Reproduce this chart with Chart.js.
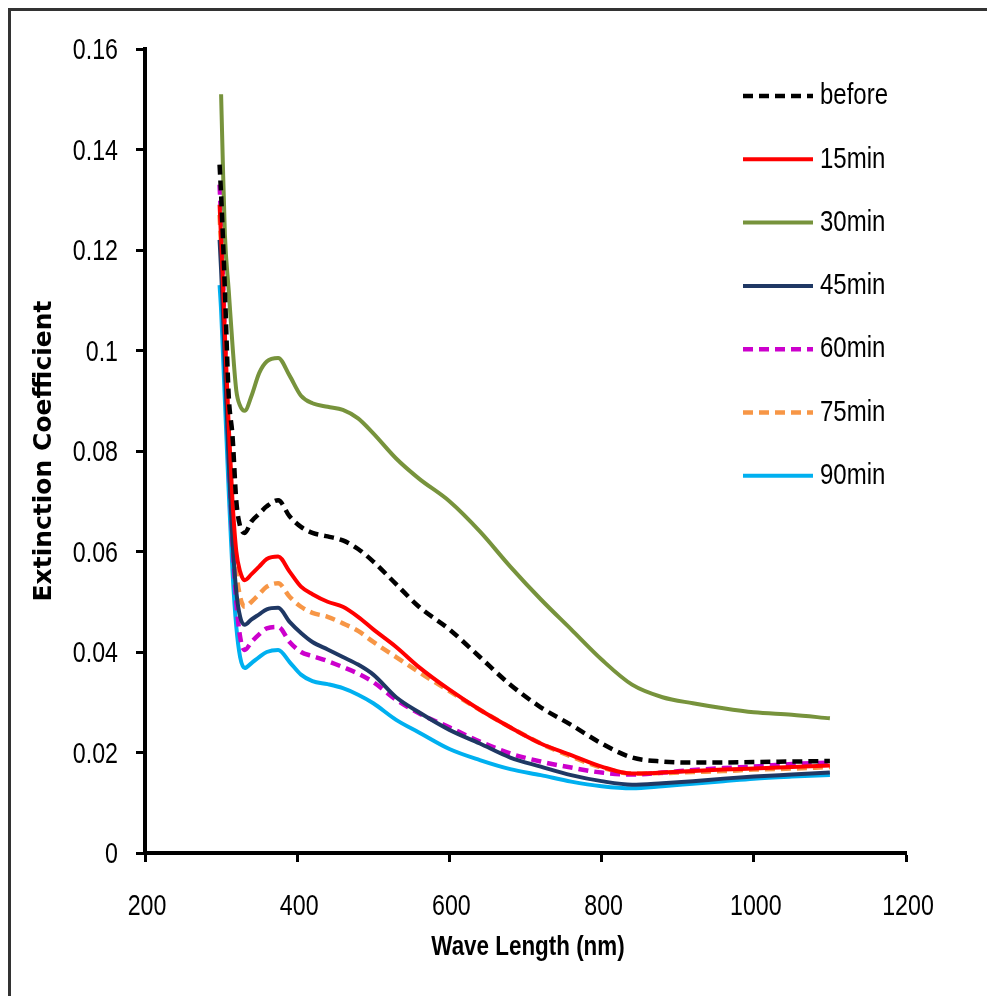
<!DOCTYPE html>
<html>
<head>
<meta charset="utf-8">
<title>Extinction Coefficient</title>
<script src="https://cdn.jsdelivr.net/npm/chart.js"></script>
<style>
  html,body{margin:0;padding:0;background:#fff;}
  canvas{display:block;}
</style>
</head>
<body>
<canvas id="chart" width="987" height="996"></canvas>
<script>
// wavelength samples (nm)
const wavelengths = [298, 300, 302, 305, 310, 315, 320, 325, 331, 340, 350, 360, 375, 390, 405, 420, 440, 460, 480, 500,
  530, 560, 600, 640, 680, 720, 760, 800, 840, 880, 920, 960, 1000, 1050, 1100];

const seriesLabels = ['before', '15min', '30min', '45min', '60min', '75min', '90min'];

const before = [0.137, 0.131, 0.124, 0.112, 0.091, 0.083, 0.070, 0.065, 0.0637, 0.066, 0.0675, 0.069, 0.0702, 0.067, 0.0649, 0.0637, 0.063, 0.0622, 0.0605, 0.058,
  0.0535, 0.049, 0.0445, 0.039, 0.0335, 0.029, 0.0255, 0.0218, 0.019, 0.0182, 0.018, 0.018, 0.0181, 0.0182, 0.0183];
const min15 = [0.129, 0.122, 0.115, 0.103, 0.085, 0.070, 0.060, 0.056, 0.0543, 0.0555, 0.057, 0.0585, 0.059, 0.056, 0.053, 0.0515, 0.050, 0.049, 0.047, 0.0445,
  0.041, 0.037, 0.0325, 0.0285, 0.025, 0.0218, 0.0195, 0.0172, 0.0158, 0.016, 0.0163, 0.0166, 0.0168, 0.0171, 0.0174];
const min30 = [null, 0.151, 0.139, 0.123, 0.112, 0.101, 0.092, 0.089, 0.088, 0.091, 0.0955, 0.0978, 0.0985, 0.095, 0.091, 0.0895, 0.0888, 0.0882, 0.0865, 0.0835,
  0.0785, 0.0745, 0.070, 0.064, 0.057, 0.0505, 0.0445, 0.0385, 0.0335, 0.031, 0.0298, 0.0288, 0.028, 0.0275, 0.0268];
const min45 = [0.122, 0.116, 0.109, 0.097, 0.078, 0.062, 0.052, 0.047, 0.0454, 0.0465, 0.0475, 0.0485, 0.0488, 0.046, 0.0438, 0.042, 0.0405, 0.039, 0.0375, 0.0355,
  0.031, 0.028, 0.0245, 0.0218, 0.019, 0.0172, 0.0155, 0.0143, 0.0136, 0.0139, 0.0143, 0.0148, 0.0152, 0.0156, 0.016];
const min60 = [0.133, 0.126, 0.117, 0.102, 0.080, 0.062, 0.050, 0.043, 0.0404, 0.042, 0.0435, 0.0447, 0.045, 0.042, 0.040, 0.0392, 0.0382, 0.037, 0.0357, 0.034,
  0.0305, 0.0278, 0.025, 0.0222, 0.0198, 0.0182, 0.017, 0.016, 0.0156, 0.016, 0.0165, 0.0169, 0.0172, 0.0177, 0.018];
const min75 = [0.127, 0.121, 0.114, 0.101, 0.082, 0.066, 0.056, 0.051, 0.049, 0.050, 0.0515, 0.053, 0.0537, 0.051, 0.049, 0.0478, 0.047, 0.0457, 0.0442, 0.042,
  0.039, 0.036, 0.0322, 0.0285, 0.025, 0.0218, 0.0192, 0.017, 0.0158, 0.0159, 0.0161, 0.0163, 0.0166, 0.0168, 0.0171];
const min90 = [0.113, 0.108, 0.101, 0.090, 0.072, 0.056, 0.045, 0.039, 0.0368, 0.0378, 0.039, 0.040, 0.0404, 0.038, 0.0355, 0.0342, 0.0336, 0.0328, 0.0315, 0.0298,
  0.0265, 0.024, 0.0207, 0.0185, 0.0167, 0.0155, 0.0142, 0.0133, 0.0129, 0.0133, 0.0138, 0.0143, 0.0148, 0.0152, 0.0155];

const xTicks = [200, 400, 600, 800, 1000, 1200];
const yTicks = [0, 0.02, 0.04, 0.06, 0.08, 0.1, 0.12, 0.14, 0.16];

const SANS = "'Liberation Sans', Arial, sans-serif";
const SQUEEZE = 0.8;   // horizontal squeeze for the narrow, tall lettering

const styles = [
  {color:'#000000', dash:[10,6], width:4.5},
  {color:'#ff0000', dash:[], width:4},
  {color:'#77933c', dash:[], width:4},
  {color:'#1f3864', dash:[], width:4},
  {color:'#cc00cc', dash:[10,6], width:4.5},
  {color:'#f79646', dash:[10,6], width:4.5},
  {color:'#00b0f0', dash:[], width:4}
];
const allSeries = [before, min15, min30, min45, min60, min75, min90];

const datasets = allSeries.map((vals, i)=>({
  label: seriesLabels[i],
  data: wavelengths.map((x, j)=>({x, y: vals[j]})),
  borderColor: styles[i].color,
  borderWidth: styles[i].width,
  borderDash: styles[i].dash,
  borderCapStyle: 'butt',
  pointRadius: 0,
  fill: false,
  cubicInterpolationMode: 'monotone',
  spanGaps: false
}));

// draw text squeezed horizontally around its anchor
function narrowText(c, text, x, y, font, align){
  c.save();
  c.font = font;
  c.textAlign = align;
  c.textBaseline = 'middle';
  c.translate(x, y);
  c.scale(SQUEEZE, 1);
  c.fillText(text, 0, 0);
  c.restore();
}

// white page, frame line on the left and top edges
const framePlugin = {
  id: 'frame',
  beforeDraw(chart){
    const c = chart.ctx;
    c.save();
    c.fillStyle = '#fff';
    c.fillRect(0, 0, chart.width, chart.height);
    c.strokeStyle = '#333';
    c.lineWidth = 3;
    c.strokeRect(9.5, 9.5, 2000, 2000);
    c.restore();
  }
};

// tick labels, x title and the stacked legend
const labelsPlugin = {
  id: 'narrowLabels',
  afterDraw(chart){
    const c = chart.ctx;
    const xs = chart.scales.x, ys = chart.scales.y;
    c.save();
    c.fillStyle = '#000';
    const tickFont = "29px " + SANS;
    ys.ticks.forEach(t=>{
      narrowText(c, String(+t.value.toFixed(2)), 118, ys.getPixelForValue(t.value) + 2, tickFont, 'right');
    });
    xs.ticks.forEach(t=>{
      narrowText(c, String(t.value), xs.getPixelForValue(t.value) + 2, 907, tickFont, 'center');
    });
    narrowText(c, 'Wave Length (nm)', 528, 947, "bold 28px " + SANS, 'center');

    chart.data.datasets.forEach((ds, i)=>{
      const y = 96 + i * 63.3;
      c.beginPath();
      c.strokeStyle = ds.borderColor;
      c.lineWidth = ds.borderWidth;
      c.setLineDash(ds.borderDash);
      c.moveTo(743, y);
      c.lineTo(813, y);
      c.stroke();
      c.setLineDash([]);
      narrowText(c, ds.label, 820, y, "30px " + SANS, 'left');
    });
    c.restore();
  }
};

new Chart(document.getElementById('chart'), {
  type: 'line',
  data: {datasets},
  plugins: [framePlugin, labelsPlugin],
  options: {
    responsive: false,
    animation: false,
    devicePixelRatio: 1,
    layout: {padding: {left: 0, top: 49, right: 81, bottom: 0}},
    plugins: {legend: {display: false}, tooltip: {enabled: false}},
    scales: {
      x: {
        type: 'linear',
        min: 200, max: 1200,
        afterBuildTicks: s => { s.ticks = xTicks.map(v=>({value:v})); },
        afterFit: s => { s.height = 143; },
        grid: {drawOnChartArea: false, drawTicks: true, tickLength: 9, tickWidth: 3, tickColor: '#000'},
        border: {display: true, color: '#000', width: 4},
        ticks: {display: false}
      },
      y: {
        min: 0, max: 0.16,
        afterBuildTicks: s => { s.ticks = yTicks.map(v=>({value:v})); },
        afterFit: s => { s.width = 145; },
        grid: {drawOnChartArea: false, drawTicks: true, tickLength: 9, tickWidth: 3, tickColor: '#000'},
        border: {display: true, color: '#000', width: 4},
        ticks: {display: false},
        title: {display: true, text: 'Extinction Coefficient', color: '#000',
          font: {family: "'DejaVu Sans', sans-serif", size: 25, weight: 'bold'}, padding: {top: 29, bottom: 0}}
      }
    }
  }
});
</script>
</body>
</html>
